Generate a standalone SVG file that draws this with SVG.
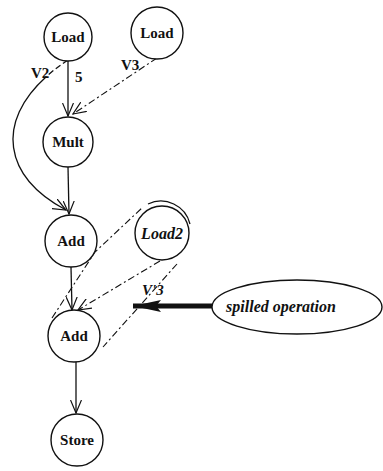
<svg xmlns="http://www.w3.org/2000/svg" width="383" height="471" viewBox="0 0 383 471">
  <style>
    .node { fill: #fff; stroke: #111; stroke-width: 1.4; }
    .lbl { font-family: "Liberation Serif", serif; font-weight: bold; font-size: 15px; fill: #111; text-anchor: middle; }
    .it { font-style: italic; }
    .edge { fill: none; stroke: #111; stroke-width: 1.3; }
    .dash { stroke-dasharray: 7 3 2 3; stroke-width: 1.1; }
    .elbl { font-family: "Liberation Serif", serif; font-weight: bold; font-size: 15px; fill: #111; }
  </style>
  <defs>
    <marker id="open" viewBox="0 0 14 12" refX="13" refY="6" markerWidth="14" markerHeight="12" markerUnits="userSpaceOnUse" orient="auto">
      <path d="M0,0.5 L13,6 L0,11.5" fill="none" stroke="#111" stroke-width="1.2"/>
    </marker>
    <marker id="solidhead" viewBox="0 0 28 14" refX="28" refY="7" markerWidth="28" markerHeight="14" markerUnits="userSpaceOnUse" orient="auto">
      <path d="M0,1 L28,7 L0,13 L5,7 Z" fill="#111"/>
    </marker>
  </defs>
  <rect width="383" height="471" fill="#fff"/>

  <g id="connectors">
    <!-- data edges -->
    <line class="edge" x1="68" y1="61" x2="68" y2="116" marker-end="url(#open)"/>
    <line class="edge" x1="68" y1="167" x2="69" y2="214" marker-end="url(#open)"/>
    <line class="edge" x1="71" y1="267" x2="72" y2="310" marker-end="url(#open)"/>
    <line class="edge" x1="76" y1="362" x2="76" y2="413" marker-end="url(#open)"/>
    <path class="edge" d="M68,60 C-5,108 -5,172 66,210" marker-end="url(#open)" stroke-dasharray="6 3 6 3 6 3 300 0"/>
    <line class="edge dash" x1="157" y1="58" x2="73" y2="114" marker-end="url(#open)"/>
    <line class="edge dash" x1="160" y1="261" x2="78" y2="310" marker-end="url(#open)"/>
    <!-- spill region outline -->
    <path class="edge dash" d="M52,318 L95,252 L143,207"/>
    <path class="edge" d="M148,204 A30 30 0 0 1 190,224"/>
    <line class="edge dash" x1="177" y1="264" x2="103" y2="347"/>
    <!-- pointer from the note -->
    <line x1="212" y1="306" x2="133" y2="306" stroke="#111" stroke-width="5" marker-end="url(#solidhead)"/>
    <text class="elbl" x="31" y="78">V2</text>
    <text class="elbl" x="75" y="82">5</text>
    <text class="elbl" x="121" y="70">V3</text>
    <text class="elbl it" x="142" y="295">V'3</text>
  </g>

  <g id="load1">
    <circle class="node" cx="68" cy="37" r="24"/>
    <text class="lbl" x="68" y="42">Load</text>
  </g>
  <g id="load2">
    <circle class="node" cx="157" cy="33" r="26"/>
    <text class="lbl" x="157" y="38">Load</text>
  </g>
  <g id="mult">
    <circle class="node" cx="68" cy="142" r="25"/>
    <text class="lbl" x="68" y="147">Mult</text>
  </g>
  <g id="add1">
    <circle class="node" cx="71" cy="241" r="26"/>
    <text class="lbl" x="71" y="246">Add</text>
  </g>
  <g id="load2-spill">
    <circle class="node" cx="162" cy="233" r="27"/>
    <text class="lbl it" x="162" y="239" style="font-size:16px">Load2</text>
  </g>
  <g id="add2">
    <circle class="node" cx="74" cy="336" r="26"/>
    <text class="lbl" x="74" y="341">Add</text>
  </g>
  <g id="store">
    <circle class="node" cx="77" cy="440" r="26"/>
    <text class="lbl" x="77" y="445">Store</text>
  </g>
  <g id="note">
    <ellipse class="node" cx="297" cy="307" rx="85" ry="27"/>
    <text class="lbl it" x="281" y="312" style="font-size:16px">spilled operation</text>
  </g>
</svg>
